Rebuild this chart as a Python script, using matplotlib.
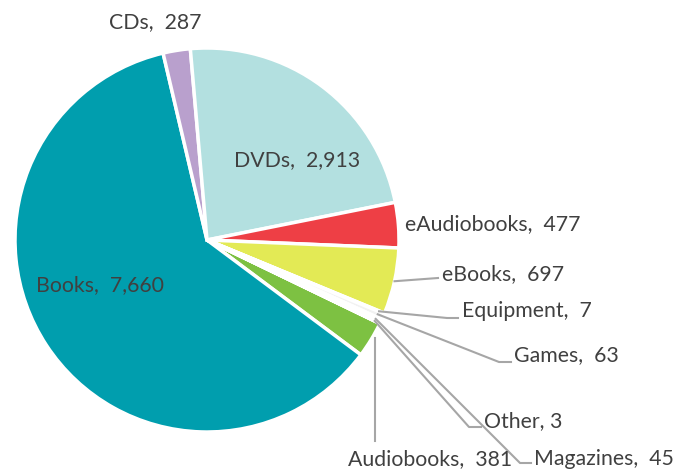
import numpy as np
import matplotlib.pyplot as plt

categories = ["Audiobooks", "Books", "CDs", "DVDs", "eAudiobooks", "eBooks",
              "Equipment", "Games", "Magazines", "Other"]
values = [381, 7660, 287, 2913, 477, 697, 7, 63, 45, 3]
colors = ["#7DC142", "#009EAE", "#B9A0CD", "#B3E0E0", "#EE3F45", "#E3EA55",
          "#0B6470", "#F2F2F2", "#FFFFFF", "#FFFFFF"]

CX, CY, R = 207, 240, 192
W, H = 698, 471


def px(x, y):
    return (x - CX) / R, (CY - y) / R


fig = plt.figure(figsize=(W / 100, H / 100), dpi=100)
ax = fig.add_axes([0, 0, 1, 1])
wedges, _ = ax.pie(values, colors=colors, startangle=-25.8, counterclock=False,
                   radius=1.0, wedgeprops=dict(edgecolor="white", linewidth=2.5))
ax.set_xlim(-CX / R, (W - CX) / R)
ax.set_ylim(-(H - CY) / R, CY / R)
ax.set_aspect("auto")
ax.axis("off")

txt = dict(fontsize=15.3, color="#404040", family=["Lato", "DejaVu Sans"])


def label(name, val, x, y, ha="left"):
    ax.text(*px(x, y), f"{name},  {val:,}", ha=ha, va="center", **txt)


# labels for the wedges, placed like the original
label("CDs", 287, 155, 22, "center")
label("DVDs", 2913, 297, 160, "center")
label("Books", 7660, 100, 285, "center")
label("eAudiobooks", 477, 405, 224)
label("eBooks", 697, 442, 274)
ax.text(*px(462, 311), "Equipment,  7", ha="left", va="center", **txt)
label("Games", 63, 514, 355)
ax.text(*px(484, 421), "Other, 3", ha="left", va="center", **txt)
label("Magazines", 45, 534, 459)
label("Audiobooks", 381, 430, 459, "center")


def mid_point(w, r=1.0):
    a = np.deg2rad((w.theta1 + w.theta2) / 2)
    return r * np.cos(a), r * np.sin(a)


leaders = {
    "eBooks": [(438, 278)],
    "Equipment": [(447, 318), (458, 318)],
    "Games": [(499, 362), (511, 362)],
    "Other": [(469, 427), (481, 427)],
    "Magazines": [(520, 463), (531, 463)],
}
for name, pts in leaders.items():
    w = wedges[categories.index(name)]
    x0, y0 = mid_point(w, 1.0 if name == "eBooks" else 0.97)
    xs = [x0] + [px(*p)[0] for p in pts]
    ys = [y0] + [px(*p)[1] for p in pts]
    ax.plot(xs, ys, color="#A6A6A6", lw=1.5)

# audiobooks leader goes straight down
ax.plot(*zip(px(375, 338), px(375, 441)), color="#A6A6A6", lw=1.5)

fig.savefig("out.png", dpi=100)
